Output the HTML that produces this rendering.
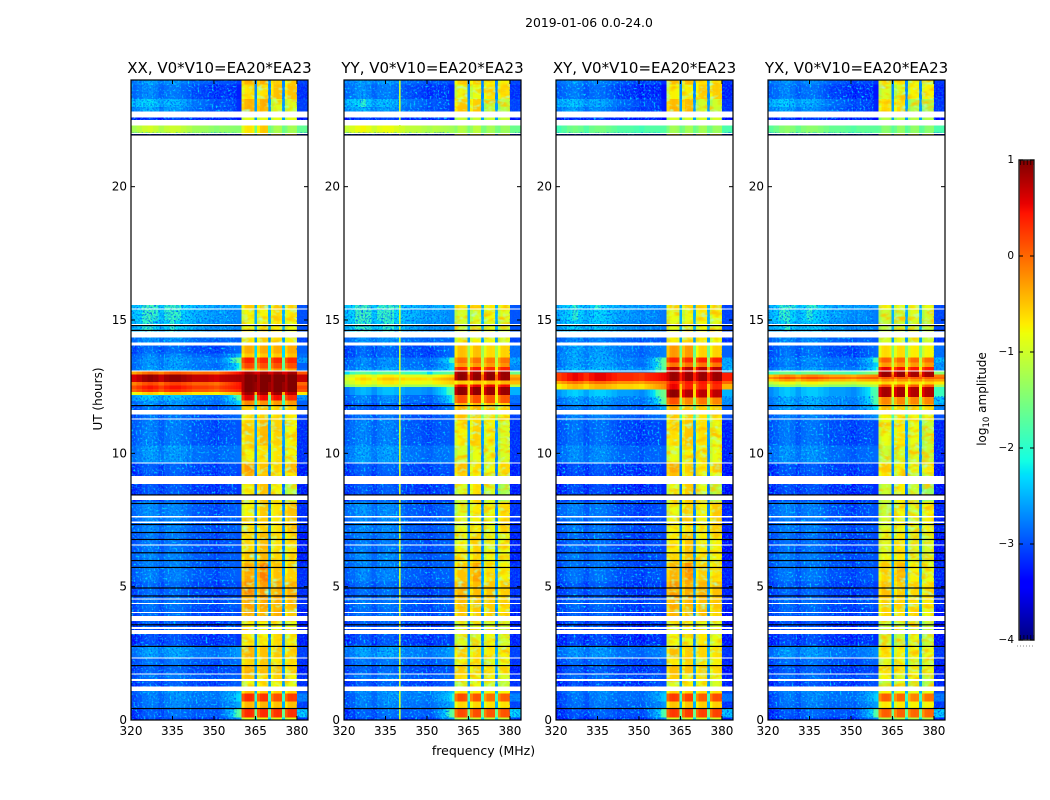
<!DOCTYPE html>
<html lang="en">
<head>
<meta charset="utf-8">
<title>2019-01-06 0.0-24.0</title>
<style>
html,body{margin:0;padding:0;background:#fff;width:1050px;height:800px;overflow:hidden}
svg{display:block}
text{font-family:"DejaVu Sans","Liberation Sans",sans-serif;fill:#000}
</style>
</head>
<body>
<svg id="chart" xmlns="http://www.w3.org/2000/svg" width="1050" height="800" viewBox="0 0 1050 800">
  <defs>
    <filter id="speckle-dark" x="0" y="0" width="100%" height="100%">
      <feTurbulence type="fractalNoise" baseFrequency="0.55" numOctaves="2" seed="7"/>
      <feColorMatrix type="matrix" values="0 0 0 0 0  0 0 0 0 0.12  0 0 0 0 0.95  2.2 2.2 0 0 -2.0"/>
    </filter>
    <filter id="speckle-light" x="0" y="0" width="100%" height="100%">
      <feTurbulence type="fractalNoise" baseFrequency="0.5" numOctaves="2" seed="23"/>
      <feColorMatrix type="matrix" values="0 0 0 0 0  0 0 0 0 0.7  0 0 0 0 1  2.2 2.2 0 0 -2.3"/>
    </filter>
    <filter id="mottle-warm" x="0" y="0" width="100%" height="100%">
      <feTurbulence type="fractalNoise" baseFrequency="0.1 0.18" numOctaves="2" seed="11"/>
      <feColorMatrix type="matrix" values="0 0 0 0 1  0 0 0 0 0.55  0 0 0 0 0  3 0 0 0 -1.35"/>
    </filter>
    <filter id="mottle-cool" x="0" y="0" width="100%" height="100%">
      <feTurbulence type="fractalNoise" baseFrequency="0.14 0.22" numOctaves="2" seed="31"/>
      <feColorMatrix type="matrix" values="0 0 0 0 0.45  0 0 0 0 1  0 0 0 0 0.45  3 0 0 0 -1.6"/>
    </filter>
  </defs>
  <text x="589" y="27" font-size="12.4" text-anchor="middle">2019-01-06 0.0-24.0</text>
  <text x="483.5" y="755" font-size="12.5" text-anchor="middle">frequency (MHz)</text>
  <text x="0" y="0" font-size="12" text-anchor="middle" transform="translate(102,399) rotate(-90)">UT (hours)</text>
  <text x="0" y="0" font-size="12" text-anchor="middle" transform="translate(986,399) rotate(-90)">log<tspan dy="3" font-size="8.5">10</tspan><tspan dy="-3"> amplitude</tspan></text>
</svg>
<script>
// ---------- data ----------
const panelNames = ["XX", "YY", "XY", "YX"];
const panelTitleSuffix = ", V0*V10=EA20*EA23";
const xTicks = [320, 335, 350, 365, 380];
const yTicks = [0, 5, 10, 15, 20];
const colorbarTicks = [1, 0, -1, -2, -3, -4];
// frequency channel edges, MHz
const freqEdges = [320,322,324,326,328,330,332,334,336,338,340,342,344,346,348,350,352,353,354,355,356,357,358,359,360,361,362,363,364,364.6,365.6,366.6,367.6,368.6,369.6,370.6,371.6,372.6,373.6,374.6,375.6,376.6,377.6,378.6,380,381,382,384];
// faint vertical structure in the off-band background, one value per 2 MHz from 320 to 352
const bgColumnOffset = [-0.1,0.02,0.15,0.22,0.15,0,0.15,0.22,0.22,0.15,0.08,0,0,0,-0.05,-0.1];
// levels within a band, per channel
const bandShape = [-0.2,0.02,0.05,0.03,-0.05];
// rows: hourStart, hourEnd, bgLeft, bgMid, shoulder, band1, band2, band3, band4, gap, right (log10 amplitude)
const sharedRows = [
  [0,0.1,-3.0,-2.9,-2.2,-0.9,-0.85,-0.9,-0.9,-2.0,-2.9],
  [0.1,0.42,-2.9,-2.6,-1.5,0.3,0.28,0.25,0.25,-1.6,-2.0],
  [0.42,0.7,-2.7,-2.5,-2.2,-0.45,-0.45,-0.5,-0.5,-2.2,-2.8],
  [0.7,1.0,-2.7,-2.4,-1.9,0.3,0.25,0.1,0.2,-1.9,-2.4],
  [1.0,1.25,-2.6,-2.4,-2.1,-0.5,-0.55,-0.6,-0.6,-2.2,-2.7],
  [1.25,1.5,-2.9,-2.8,-2.6,-0.85,-0.7,-0.8,-0.9,-2.3,-2.9],
  [1.5,1.75,-2.7,-2.7,-2.6,-0.5,-0.7,-0.6,-0.8,-2.4,-2.9],
  [1.75,2.05,-2.8,-2.8,-2.7,-0.4,-0.45,-0.5,-0.6,-2.3,-3.0],
  [2.05,2.35,-2.7,-2.7,-2.5,-0.65,-0.55,-0.75,-0.7,-2.2,-2.9],
  [2.35,2.8,-2.45,-2.45,-2.3,-0.4,-0.5,-0.55,-0.6,-2.2,-2.8],
  [2.8,3.3,-2.95,-2.9,-2.8,-0.75,-0.8,-0.65,-0.8,-2.4,-3.0],
  [3.3,3.7,-2.85,-2.9,-2.7,-0.8,-0.8,-0.85,-0.9,-2.4,-3.0],
  [3.7,4.2,-2.75,-2.8,-2.7,-0.35,-0.4,-0.4,-0.55,-2.4,-3.0],
  [4.2,4.6,-2.7,-2.75,-2.6,-0.3,-0.35,-0.4,-0.45,-2.3,-2.9],
  [4.6,5.2,-2.75,-2.8,-2.7,-0.2,-0.3,-0.35,-0.4,-2.3,-2.9],
  [5.2,5.9,-2.6,-2.7,-2.6,-0.35,-0.15,-0.5,-0.6,-2.3,-2.9],
  [5.9,6.3,-2.55,-2.7,-2.6,-0.55,-0.45,-0.65,-0.7,-2.3,-3.0],
  [6.3,7.0,-2.65,-2.75,-2.65,-0.65,-0.45,-0.7,-0.7,-2.4,-3.0],
  [7.0,7.6,-2.55,-2.7,-2.6,-0.7,-0.6,-0.7,-0.5,-2.4,-2.9],
  [7.6,8.2,-2.5,-2.75,-2.6,-0.8,-0.55,-0.7,-0.5,-2.4,-2.9],
  [8.2,8.9,-2.9,-2.9,-2.8,-0.8,-0.5,-0.8,-1.1,-2.5,-3.0],
  [8.9,9.3,-2.9,-2.85,-2.75,-0.4,-0.6,-0.8,-0.75,-2.5,-3.0],
  [9.3,9.65,-2.85,-2.8,-2.7,-0.3,-0.5,-0.65,-0.45,-2.4,-3.0],
  [9.65,10.3,-2.45,-2.55,-2.5,-0.8,-0.7,-0.7,-0.8,-2.4,-2.9],
  [10.3,11.25,-2.6,-2.75,-2.65,-0.6,-0.45,-0.6,-0.8,-2.3,-2.9],
  [14.06,14.5,-2.5,-2.6,-2.6,-0.7,-0.6,-0.65,-0.75,-2.3,-2.8],
  [14.5,15,-2.05,-2.3,-2.45,-0.85,-0.8,-0.75,-0.85,-2.2,-2.7],
  [15,15.4,-2.0,-2.25,-2.45,-0.8,-0.8,-0.65,-0.75,-2.2,-2.7],
  [15.4,15.56,-2.0,-2.2,-2.3,-0.55,-0.55,-0.55,-0.6,-2.2,-2.7],
  [21.95,22.03,-3.2,-3.2,-3.1,-0.5,-0.5,-0.55,-0.55,-2.3,-3.2],
  [22.5,22.62,-3.1,-3.0,-3.0,-0.9,-0.9,-0.9,-0.9,-2.3,-3.1],
  [22.8,23.0,-2.3,-2.75,-2.9,-0.35,-0.35,-0.95,-1.0,-2.3,-2.8],
  [23.0,23.3,-2.05,-2.7,-2.9,-0.4,-0.4,-0.95,-0.95,-2.3,-2.8],
  [23.3,23.85,-2.5,-2.9,-2.95,-0.7,-0.7,-0.5,-0.5,-2.4,-2.9],
  [23.85,24,-2.4,-2.7,-2.8,-0.4,-0.4,-0.6,-0.6,-2.4,-2.8]
];
// per-panel level shift for shared rows: background, band
const panelBgShift = [0, 0.02, -0.08, -0.05];
const panelBandShift = [0, -0.18, -0.08, -0.28];
// per-panel flare rows, same column order as sharedRows
const flareRowsXX = [
  [11.25,11.6,-2.7,-2.75,-2.5,-0.7,-0.6,-0.65,-0.75,-2.2,-2.8],
  [11.6,11.8,-2.7,-2.7,-2.3,-0.7,-0.6,-0.65,-0.6,-2.2,-2.7],
  [11.8,12.0,-2.5,-2.5,-1.9,-0.2,-0.25,-0.3,-0.3,-1.9,-2.6],
  [12.0,12.2,-2.2,-2.4,-1.6,0.55,0.45,0.45,0.3,-1.6,-2.3],
  [12.2,12.31,-0.75,-0.65,-0.3,0.85,0.85,0.85,0.7,-0.4,-0.7],
  [12.31,12.43,0.1,0.1,0.4,1,1,1,1,0.9,0.1],
  [12.43,12.56,0.25,0.25,0.5,1,1,1,1,0.9,0.2],
  [12.56,12.69,-0.05,0.05,0.5,1,1,1,1,0.9,0],
  [12.69,12.97,0.7,0.72,0.85,1,1,1,1,1,0.7],
  [12.97,13.08,-0.25,0.05,0.55,0.8,0.8,0.8,0.8,0.6,0.1],
  [13.08,13.2,-2.4,-2.4,-1.8,-0.3,-0.3,-0.3,-0.35,-1.7,-2.5],
  [13.2,13.4,-2.5,-2.5,-1.8,0.15,0.1,0.1,0.1,-1.7,-2.6],
  [13.4,13.6,-2.5,-2.4,-1.4,0.35,0.3,0.3,0.3,-1.6,-2.3],
  [13.6,13.75,-2.6,-2.6,-2.1,-0.55,-0.55,-0.55,-0.5,-2.0,-2.5],
  [13.75,14.06,-2.75,-2.8,-2.5,-0.4,-0.4,-0.4,-0.4,-2.0,-2.6],
  [22.03,22.3,-1.15,-1.35,-1.45,-0.7,-0.55,-1.25,-1.3,-1.6,-1.65]
];
const flareRowsYY = [
  [11.25,11.6,-2.7,-2.75,-2.5,-0.5,-0.65,-0.75,-0.8,-1.5,-2.8],
  [11.6,11.9,-2.8,-2.8,-2.4,-0.45,-0.45,-0.5,-0.6,-1.4,-2.7],
  [11.9,12.2,-2.6,-2.55,-1.8,0.1,0.1,0.05,0.05,-0.8,-2.5],
  [12.2,12.5,-2.4,-2.3,-1.65,0.9,0.9,0.85,0.85,-0.6,-2.2],
  [12.5,12.6,-1.35,-1.25,-0.95,0.5,0.5,0.5,0.45,-0.5,-1.1],
  [12.6,12.75,-1.0,-0.75,-0.5,-0.55,-0.5,-0.5,-0.45,-0.6,-0.45],
  [12.75,12.85,-0.85,-0.55,-0.25,0.9,0.9,0.9,0.85,0,-0.2],
  [12.85,12.97,-1.0,-0.85,-0.55,0.9,0.9,0.9,0.85,0,-0.4],
  [12.97,13.08,-1.9,-1.9,-1.6,0.85,0.85,0.85,0.85,-0.4,-1.6],
  [13.08,13.25,-2.5,-2.4,-1.9,0.35,0.4,0.3,0.35,-0.7,-2.4],
  [13.25,13.4,-2.6,-2.55,-1.95,-0.3,-0.3,-0.3,-0.25,-1.1,-2.3],
  [13.4,13.6,-2.6,-2.5,-1.7,-0.1,-0.1,-0.15,-0.1,-1.1,-2.2],
  [13.6,14.06,-2.8,-2.8,-2.5,-0.5,-0.5,-0.65,-0.6,-1.3,-2.5],
  [22.03,22.3,-0.95,-1.15,-1.3,-1.2,-1.15,-1.3,-1.35,-1.5,-1.6]
];
const flareRowsXY = [
  [11.25,11.6,-2.6,-2.65,-2.45,-0.55,-0.6,-0.7,-0.75,-1.9,-2.7],
  [11.6,11.85,-2.6,-2.6,-2.2,-0.4,-0.55,-0.6,-0.6,-1.7,-2.6],
  [11.85,12.1,-2.5,-2.45,-1.5,0.1,-0.2,-0.1,-0.2,-1.3,-2.3],
  [12.1,12.4,-2.25,-2.3,-1.4,0.9,0.75,0.7,0.7,-0.6,-2.2],
  [12.4,12.62,-0.65,-0.55,-0.1,0.5,0.35,0.35,0.3,-0.5,-0.4],
  [12.62,12.72,-0.25,-0.2,0,0.4,0.4,0.4,0.4,0,0],
  [12.72,13.05,0.32,0.35,0.55,0.85,0.85,0.85,0.85,0.4,0.4],
  [13.05,13.25,-2.3,-2.3,-1.6,0.7,0.7,0.7,0.7,-0.3,-2.1],
  [13.25,13.42,-2.45,-2.45,-1.45,-0.1,-0.1,-0.1,-0.1,-1.3,-2.2],
  [13.42,13.6,-2.4,-2.4,-1.5,0.35,0.3,0.35,0.35,-1.2,-2.2],
  [13.6,14.06,-2.4,-2.55,-2.4,-0.3,-0.3,-0.6,-0.6,-1.6,-2.6],
  [22.03,22.3,-1.75,-1.75,-1.75,-1.3,-1.3,-1.3,-1.35,-1.6,-1.8]
];
const flareRowsYX = [
  [11.25,11.6,-2.6,-2.7,-2.3,-0.8,-0.75,-0.8,-0.85,-1.8,-2.7],
  [11.6,11.85,-2.45,-2.45,-1.9,-0.5,-0.6,-0.65,-0.65,-1.6,-2.4],
  [11.85,12.12,-2.4,-2.35,-1.65,-0.2,-0.2,-0.2,-0.2,-1.3,-2.1],
  [12.12,12.5,-2.3,-2.3,-1.65,0.8,0.8,0.75,0.75,-0.8,-1.9],
  [12.5,12.6,-1.4,-1.4,-1.1,0.1,0.1,0.05,0.05,-0.8,-1.2],
  [12.6,12.7,-1.0,-0.95,-0.75,-0.6,-0.6,-0.6,-0.6,-0.7,-0.7],
  [12.7,12.8,-0.45,-0.4,-0.3,-0.25,-0.25,-0.25,-0.25,-0.2,-0.3],
  [12.8,12.87,-0.1,0,0.1,0.05,0.05,0.05,0.05,0.05,0],
  [12.87,12.97,-0.4,-0.3,-0.1,0.85,0.85,0.8,0.8,0,-0.1],
  [12.97,13.08,-1.8,-1.75,-1.3,0.85,0.85,0.8,0.8,-0.3,-1.4],
  [13.08,13.25,-2.5,-2.4,-1.85,0.5,0.45,0.4,0.4,-0.7,-2.3],
  [13.25,13.42,-2.65,-2.55,-1.95,-0.3,-0.3,-0.3,-0.3,-1.1,-2.3],
  [13.42,13.6,-2.6,-2.5,-1.7,0.0,-0.05,-0.05,-0.05,-1.1,-2.1],
  [13.6,14.06,-2.7,-2.8,-2.5,-0.65,-0.65,-0.75,-0.8,-1.5,-2.5],
  [22.03,22.3,-1.6,-1.65,-1.7,-1.45,-1.4,-1.4,-1.45,-1.7,-1.8]
];
const panelFlareRows = [flareRowsXX, flareRowsYY, flareRowsXY, flareRowsYX];
// narrow interference channel per panel: MHz (null = none), level
const rfiChannel = [null, [339.9, 340.4, -1.0], null, null];
// flagged intervals, hours
const whiteGaps = [[1.09,1.25],[1.47,1.53],[1.7,1.74],[2.3,2.35],[3.23,3.38],[3.41,3.49],[3.72,3.9],[4.01,4.05],[4.35,4.39],[4.52,4.56],[6.55,6.58],[7.39,7.44],[7.59,7.65],[8.25,8.41],[8.85,9.15],[9.63,9.66],[11.27,11.31],[11.46,11.63],[13.09,13.11],[14.05,14.15],[14.34,14.56],[14.81,14.85],[15.39,15.44],[21.99,22.02],[22.31,22.5],[22.6,22.81]];
const blackLines = [0.43,2.04,2.76,3.57,4.65,4.95,5.72,5.98,6.27,6.77,7.03,7.33,8.12,8.44,11.79,14.61,14.79,21.94];
// stretches of the off-band background that carry the speckle, hours
const speckleSpans = [[0,12.15],[13.1,15.56],[21.95,22.03],[22.5,24]];
// stretches of the bands that carry the mottling, hours
const mottleSpans = [[1.1,11.8],[14.06,15.56],[22.8,24]];

// ---------- scales ----------
const PANEL_LEFT = [131, 344, 556, 768];
const PANEL_WIDTH = 177;
const PLOT_TOP = 80, PLOT_BOTTOM = 720;
const FREQ_MIN = 320, FREQ_MAX = 384, HOUR_MAX = 24;
const LEVEL_MIN = -4, LEVEL_MAX = 1;
const CB_LEFT = 1019, CB_WIDTH = 15, CB_TOP = 160, CB_BOTTOM = 640;
const OFF_BAND_DROP = -0.3;
function xScale(panel, mhz) { return PANEL_LEFT[panel] + (mhz - FREQ_MIN) / (FREQ_MAX - FREQ_MIN) * PANEL_WIDTH; }
function yScale(hour) { return PLOT_BOTTOM - hour / HOUR_MAX * (PLOT_BOTTOM - PLOT_TOP); }
function cbScale(level) { return CB_BOTTOM - (level - LEVEL_MIN) / (LEVEL_MAX - LEVEL_MIN) * (CB_BOTTOM - CB_TOP); }
function piecewise(t, pts) {
  if (t <= pts[0][0]) return pts[0][1];
  for (let i = 1; i < pts.length; i++) {
    if (t <= pts[i][0]) {
      const a = pts[i - 1], b = pts[i];
      return a[1] + (b[1] - a[1]) * (t - a[0]) / (b[0] - a[0]);
    }
  }
  return pts[pts.length - 1][1];
}
function jet(level) {
  const t = Math.max(0, Math.min(1, (level - LEVEL_MIN) / (LEVEL_MAX - LEVEL_MIN)));
  const r = piecewise(t, [[0.35, 0], [0.66, 1], [0.89, 1], [1, 0.5]]);
  const g = piecewise(t, [[0.125, 0], [0.375, 1], [0.64, 1], [0.91, 0]]);
  const b = piecewise(t, [[0, 0.5], [0.11, 1], [0.34, 1], [0.65, 0]]);
  return "rgb(" + Math.round(r * 255) + "," + Math.round(g * 255) + "," + Math.round(b * 255) + ")";
}
function deepen(level) { return level < -1.95 ? level + OFF_BAND_DROP : level; }
function cellLevel(row, f, bgShift, bandShift) {
  const bgL = row[2] + bgShift, bgM = row[3] + bgShift, sh = row[4] + bgShift;
  if (f < 352) {
    return deepen(bgL + (bgM - bgL) * (f - 320) / 32 + bgColumnOffset[Math.floor((f - 320) / 2)]);
  }
  if (f < 360) return deepen(bgM + (sh - bgM) * (f - 352) / 8);
  if (f >= 380) return deepen(row[10] + bgShift);
  const gap = row[9];
  if ((f >= 364.6 && f < 365.6) || (f >= 369.6 && f < 370.6) || (f >= 374.6 && f < 375.6)) return deepen(gap);
  let band, start;
  if (f < 364.6) { band = row[5]; start = 360; }
  else if (f < 369.6) { band = row[6]; start = 365.6; }
  else if (f < 374.6) { band = row[7]; start = 370.6; }
  else { band = row[8]; start = 375.6; }
  const idx = Math.min(bandShape.length - 1, Math.floor(f - start));
  return Math.min(LEVEL_MAX, band + bandShift + bandShape[idx]);
}

// ---------- drawing ----------
const SVGNS = "http://www.w3.org/2000/svg";
const svg = document.getElementById("chart");
function make(tag, attrs, parent) {
  const el = document.createElementNS(SVGNS, tag);
  for (const k in attrs) el.setAttribute(k, attrs[k]);
  parent.appendChild(el);
  return el;
}
panelNames.forEach(function (name, p) {
  const group = make("g", {}, svg);
  
  

  const x0 = PANEL_LEFT[p], x1 = x0 + PANEL_WIDTH;

  const cellsGroup = make("g", { "shape-rendering": "crispEdges" }, group);
  
  

  const rows = sharedRows.map(function (r) { return [r, panelBgShift[p], panelBandShift[p]]; })
    .concat(panelFlareRows[p].map(function (r) { return [r, 0, 0]; }));
  rows.forEach(function (item) {
    const row = item[0];
    const yTop = yScale(row[1]), yBottom = yScale(row[0]);
    for (let c = 0; c < freqEdges.length - 1; c++) {
      const f0 = freqEdges[c], f1 = freqEdges[c + 1];
      const cell = make("rect", {
        x: xScale(p, f0).toFixed(2),
        y: yTop.toFixed(2),
        width: (xScale(p, f1) - xScale(p, f0) + 0.4).toFixed(2),
        height: (yBottom - yTop + 0.3).toFixed(2),
        fill: jet(cellLevel(row, f0, item[1], item[2]))
      }, cellsGroup);
      
      
    }
  });

  speckleSpans.forEach(function (span) {
    ["speckle-dark", "speckle-light"].forEach(function (filterId) {
      const speckle = make("rect", {
        x: xScale(p, FREQ_MIN),
        y: yScale(span[1]),
        width: xScale(p, 358) - xScale(p, FREQ_MIN),
        height: yScale(span[0]) - yScale(span[1]),
        filter: "url(#" + filterId + ")"
      }, group);
      
      
    });
    const rightSpeckle = make("rect", {
      x: xScale(p, 380),
      y: yScale(span[1]),
      width: xScale(p, FREQ_MAX) - xScale(p, 380),
      height: yScale(span[0]) - yScale(span[1]),
      filter: "url(#speckle-dark)"
    }, group);
    
    
  });

  mottleSpans.forEach(function (span) {
    ["mottle-warm", "mottle-cool"].forEach(function (filterId) {
      [[360, 364.6], [365.6, 369.6], [370.6, 374.6], [375.6, 380]].forEach(function (band) {
        const mottle = make("rect", {
          x: xScale(p, band[0]),
          y: yScale(span[1]),
          width: xScale(p, band[1]) - xScale(p, band[0]),
          height: yScale(span[0]) - yScale(span[1]),
          filter: "url(#" + filterId + ")"
        }, group);
        
        
      });
    });
  });

  if (rfiChannel[p]) {
    const rfi = rfiChannel[p];
    [[0, 15.56], [21.95, 24]].forEach(function (span) {
      const line = make("rect", {
        x: xScale(p, rfi[0]),
        y: yScale(span[1]),
        width: xScale(p, rfi[1]) - xScale(p, rfi[0]) + 0.2,
        height: yScale(span[0]) - yScale(span[1]),
        fill: jet(rfi[2])
      }, group);
      
      
    });
  }

  whiteGaps.forEach(function (gap) {
    const g = make("rect", {
      x: x0, y: yScale(gap[1]).toFixed(2), width: PANEL_WIDTH,
      height: Math.max(1, yScale(gap[0]) - yScale(gap[1])).toFixed(2), fill: "#fff", "shape-rendering": "crispEdges"
    }, group);
    
    
  });
  blackLines.forEach(function (hour) {
    const l = make("rect", {
      x: x0, y: (yScale(hour) - 0.6).toFixed(2), width: PANEL_WIDTH, height: 1.2, fill: "#000"
    }, group);
    
    
  });

  const frame = make("rect", {
    x: x0, y: PLOT_TOP, width: PANEL_WIDTH, height: PLOT_BOTTOM - PLOT_TOP,
    fill: "none", stroke: "#000", "stroke-width": 1.2
  }, group);
  
  

  xTicks.forEach(function (t) {
    const x = xScale(p, t);
    [[PLOT_BOTTOM, PLOT_BOTTOM - 4], [PLOT_TOP, PLOT_TOP + 4]].forEach(function (pair) {
      const tick = make("line", { x1: x, x2: x, y1: pair[0], y2: pair[1], stroke: "#000", "stroke-width": 1 }, group);
      
      
    });
    const label = make("text", { x: x, y: 735, "font-size": 12, "text-anchor": "middle" }, group);
    label.textContent = t;
    
    
  });
  yTicks.forEach(function (t) {
    const y = yScale(t);
    if (t > 0) {
      [[x0, x0 + 4], [x1, x1 - 4]].forEach(function (pair) {
        const tick = make("line", { x1: pair[0], x2: pair[1], y1: y, y2: y, stroke: "#000", "stroke-width": 1 }, group);
        
        
      });
    }
    const label = make("text", { x: x0 - 4, y: y + 4, "font-size": 12, "text-anchor": "end" }, group);
    label.textContent = t;
    
    
  });

  const title = make("text", { x: x0 + PANEL_WIDTH / 2, y: 73, "font-size": 15, "text-anchor": "middle" }, group);
  title.textContent = name + panelTitleSuffix;
  
  
});

// ---------- colorbar ----------
const cbGroup = make("g", {}, svg);


const CB_STEPS = 240;
for (let i = 0; i < CB_STEPS; i++) {
  const lvl0 = LEVEL_MIN + (LEVEL_MAX - LEVEL_MIN) * i / CB_STEPS;
  const lvl1 = LEVEL_MIN + (LEVEL_MAX - LEVEL_MIN) * (i + 1) / CB_STEPS;
  const swatch = make("rect", {
    x: CB_LEFT, y: cbScale(lvl1), width: CB_WIDTH, height: cbScale(lvl0) - cbScale(lvl1) + 0.5,
    fill: jet((lvl0 + lvl1) / 2), "shape-rendering": "crispEdges"
  }, cbGroup);
  
  
}
const cbFrame = make("rect", {
  x: CB_LEFT, y: CB_TOP, width: CB_WIDTH, height: CB_BOTTOM - CB_TOP, fill: "none", stroke: "#333", "stroke-width": 1.5
}, cbGroup);


colorbarTicks.forEach(function (t) {
  const y = cbScale(t);
  [[CB_LEFT, CB_LEFT + 4], [CB_LEFT + CB_WIDTH, CB_LEFT + CB_WIDTH - 4]].forEach(function (pair) {
    const tick = make("line", { x1: pair[0], x2: pair[1], y1: y, y2: y, stroke: "#000", "stroke-width": 1 }, cbGroup);
    
    
  });
  const label = make("text", { x: 1014, y: y + 3, "font-size": 10.5, "text-anchor": "end" }, cbGroup);
  label.textContent = String(t).replace("-", "\u2212");
  
  
});
[[CB_TOP, CB_TOP + 5], [CB_BOTTOM, CB_BOTTOM - 5]].forEach(function (pair) {
  const minor = make("line", {
    x1: CB_LEFT + 1, x2: CB_LEFT + CB_WIDTH, y1: (pair[0] + pair[1]) / 2, y2: (pair[0] + pair[1]) / 2,
    stroke: "#000", "stroke-width": 5, "stroke-dasharray": "1 2.4", "stroke-opacity": 0.7
  }, cbGroup);
  
  
});
const dots = make("line", {
  x1: 1017, x2: 1035, y1: 646, y2: 646, stroke: "#888", "stroke-width": 1, "stroke-dasharray": "1 2"
}, cbGroup);


</script>
</body>
</html>
